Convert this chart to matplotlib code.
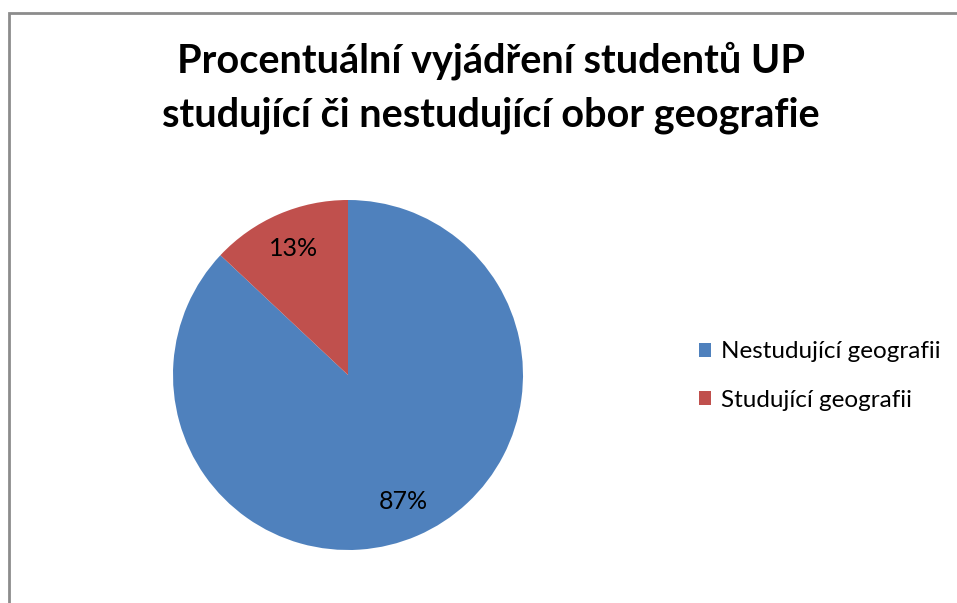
import matplotlib.pyplot as plt
from matplotlib.patches import Rectangle, Patch

plt.rcParams['font.family'] = ['Lato', 'DejaVu Sans']

labels = ["Nestudující geografii", "Studující geografii"]
values = [87, 13]
colors = ["#4F81BD", "#C0504D"]
title = "Procentuální vyjádření studentů UP\nstudující či nestudující obor geografie"

W, H = 957, 603
fig = plt.figure(figsize=(W / 100, H / 100), dpi=100)

# chart border (right/bottom run off the image)
fig.patches.append(Rectangle((9 / W, -0.1), 1.2, 1 - 13 / H + 0.1, transform=fig.transFigure,
                             fill=False, edgecolor="#8c8c8c", linewidth=2))

# pie: centre (348, 375) px, radius 175 px
cx, cy, r = 348, 375, 175
ax = fig.add_axes([(cx - r) / W, (H - cy - r) / H, 2 * r / W, 2 * r / H])
wedges, _, autotexts = ax.pie(values, colors=colors, startangle=90, counterclock=False,
                              autopct=lambda p: f"{p:.0f}%", pctdistance=0.79,
                              textprops=dict(fontsize=18, color="black"))
ax.set_xlim(-1, 1)
ax.set_ylim(-1, 1)
ax.set_aspect("equal")

fig.text(491 / W, 1 - 88 / H, title, ha="center", va="center", fontsize=28.5,
         fontweight="bold", linespacing=1.55)

handles = [Patch(facecolor=c, edgecolor="none") for c in colors]
fig.legend(handles, labels, loc="center left", bbox_to_anchor=(699 / W, 1 - 376 / H),
           frameon=False, fontsize=17.5, handlelength=0.5, handleheight=0.5,
           handletextpad=0.4, labelspacing=1.12, borderpad=0, borderaxespad=0)

fig.savefig("out.png", dpi=100)
